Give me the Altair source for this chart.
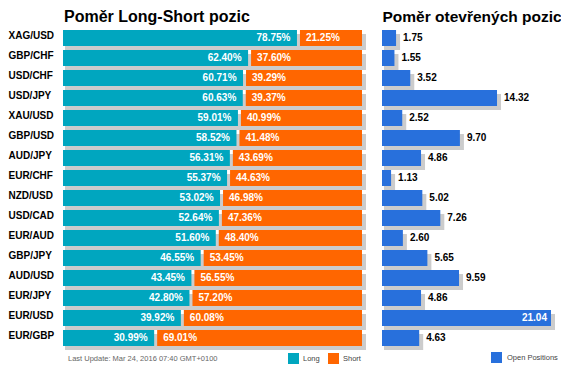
import altair as alt
import pandas as pd

FONT = "Liberation Sans"

pairs = ["XAG/USD", "GBP/CHF", "USD/CHF", "USD/JPY", "XAU/USD", "GBP/USD", "AUD/JPY", "EUR/CHF",
         "NZD/USD", "USD/CAD", "EUR/AUD", "GBP/JPY", "AUD/USD", "EUR/JPY", "EUR/USD", "EUR/GBP"]
long_pct = [78.75, 62.40, 60.71, 60.63, 59.01, 58.52, 56.31, 55.37, 53.02, 52.64, 51.60, 46.55, 43.45, 42.80, 39.92, 30.99]
short_pct = [21.25, 37.60, 39.29, 39.37, 40.99, 41.48, 43.69, 44.63, 46.98, 47.36, 48.40, 53.45, 56.55, 57.20, 60.08, 69.01]
open_ratio = [1.75, 1.55, 3.52, 14.32, 2.52, 9.70, 4.86, 1.13, 5.02, 7.26, 2.60, 5.65, 9.59, 4.86, 21.04, 4.63]

title_left = "Poměr Long-Short pozic"
title_right = "Poměr otevřených pozic"
update_text = "Last Update: Mar 24, 2016 07:40 GMT+0100"

TEAL = "#00A6BF"
ORANGE = "#FF6600"
BLUE = "#2870DC"
SHADOW = "#CCCCCC"

df = pd.DataFrame({
    "pair": pairs,
    "long": long_pct,
    "short": short_pct,
    "open": open_ratio,
})
df["zero"] = 0.0
df["total"] = df["long"] + df["short"]
df["long_lbl"] = [f"{v:.2f}%" for v in long_pct]
df["short_lbl"] = [f"{v:.2f}%" for v in short_pct]
df["open_lbl"] = [f"{v:.2f}" for v in open_ratio]

y_enc = alt.Y("pair:N", sort=pairs, title=None,
              scale=alt.Scale(paddingInner=0.2, paddingOuter=0.1),
              axis=alt.Axis(labelAlign="left", labelPadding=55, ticks=False, tickSize=0,
                            labelOffset=-2, domain=False, grid=False, labelFontSize=10,
                            labelFontWeight="bold", labelFont=FONT, labelColor="#000000"))

xl = alt.Scale(domain=[0, 100], range=[0, 299])
xr = alt.Scale(domain=[0, 22], range=[319, 495.7])

base = alt.Chart(df)

leg_ls = alt.Legend(orient="none", legendX=225, legendY=325, direction="horizontal", title=None,
                    symbolType="square", symbolSize=121, symbolStrokeWidth=0,
                    labelFontSize=7.5, labelColor="#444444", labelFont=FONT,
                    columnPadding=8, padding=0, labelOffset=4)
leg_op = alt.Legend(orient="none", legendX=428, legendY=324, direction="horizontal", title=None,
                    symbolType="square", symbolSize=121, symbolStrokeWidth=0,
                    labelFontSize=7.5, labelColor="#444444", labelFont=FONT,
                    padding=0, labelOffset=5)

c_ls = alt.Color("kind:N", scale=alt.Scale(domain=["Long", "Short"], range=[TEAL, ORANGE]), legend=leg_ls)
c_op = alt.Color("series:N", scale=alt.Scale(domain=["Open Positions"], range=[BLUE]), legend=leg_op)

# Left panel
l_shadow = base.mark_bar(color=SHADOW, xOffset=2, x2Offset=4, yOffset=4, y2Offset=4).encode(
    x=alt.X("zero:Q", scale=xl, axis=None), x2="total:Q", y=y_enc)
l_long = base.transform_calculate(kind="'Long'").mark_bar(x2Offset=-1.5).encode(
    x=alt.X("zero:Q", scale=xl, axis=None), x2="long:Q", y=y_enc, color=c_ls)
l_short = base.transform_calculate(kind="'Short'").mark_bar(xOffset=1.5).encode(
    x=alt.X("long:Q", scale=xl, axis=None), x2="total:Q", y=y_enc, color=c_ls)
l_ltxt = base.mark_text(align="right", dx=-8, color="white", fontSize=10, fontWeight="bold", font=FONT).encode(
    x=alt.X("long:Q", scale=xl, axis=None), y=y_enc, text="long_lbl:N")
l_stxt = base.mark_text(align="left", dx=7.5, color="white", fontSize=10, fontWeight="bold", font=FONT).encode(
    x=alt.X("long:Q", scale=xl, axis=None), y=y_enc, text="short_lbl:N")
l_title = alt.Chart(pd.DataFrame({"t": [title_left]})).mark_text(
    align="left", baseline="alphabetic", fontSize=16, fontWeight="bold", font=FONT, color="#000000").encode(
    x=alt.value(1), y=alt.value(-6), text="t:N")
l_update = alt.Chart(pd.DataFrame({"t": [update_text]})).mark_text(
    align="left", baseline="alphabetic", fontSize=7.5, font=FONT, color="#666666").encode(
    x=alt.value(5), y=alt.value(333), text="t:N")

left = alt.layer(l_shadow, l_long, l_short, l_ltxt, l_stxt, l_title, l_update)

# Right panel
r_shadow = base.mark_bar(color=SHADOW, xOffset=2, x2Offset=4, yOffset=4, y2Offset=4).encode(
    x=alt.X("zero:Q", scale=xr, axis=None), x2="open:Q", y=y_enc)
r_bar = base.transform_calculate(series="'Open Positions'").mark_bar().encode(
    x=alt.X("zero:Q", scale=xr, axis=None), x2="open:Q", y=y_enc, color=c_op)
r_txt_out = base.transform_filter("datum.open < 20").mark_text(
    align="left", dx=7, color="#000000", fontSize=10, fontWeight="bold", font=FONT).encode(
    x=alt.X("open:Q", scale=xr, axis=None), y=y_enc, text="open_lbl:N")
r_txt_in = base.transform_filter("datum.open >= 20").mark_text(
    align="right", dx=-4, color="white", fontSize=10, fontWeight="bold", font=FONT).encode(
    x=alt.X("open:Q", scale=xr, axis=None), y=y_enc, text="open_lbl:N")
r_title = alt.Chart(pd.DataFrame({"t": [title_right]})).mark_text(
    align="left", baseline="alphabetic", fontSize=15.5, fontWeight="bold", font=FONT, color="#000000").encode(
    x=alt.value(319.5), y=alt.value(-6), text="t:N")

right = alt.layer(r_shadow, r_bar, r_txt_out, r_txt_in, r_title)

chart = alt.layer(left, right).resolve_scale(x="independent", color="independent").properties(
    width=498, height=320,
    autosize=alt.AutoSizeParams(type="none"),
    padding={"left": 55, "top": 20, "right": 0, "bottom": 16},
    background="white"
).configure_view(stroke=None)

chart.save("out.html", embed_options={"renderer": "svg", "actions": False})
